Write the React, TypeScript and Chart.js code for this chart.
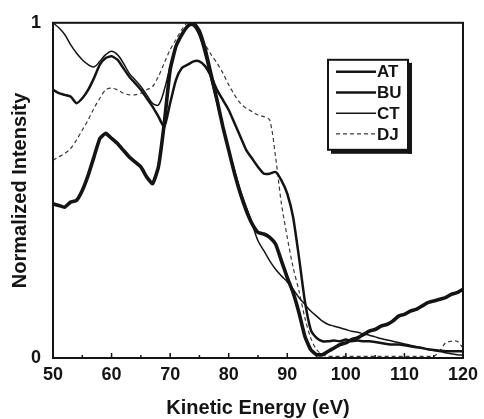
import React, { useEffect, useRef } from 'react';
import { Chart, registerables } from 'chart.js';

Chart.register(...registerables);

const energy = [
  50, 51, 52, 53, 54, 55, 56, 57, 58, 59, 60, 61, 62, 63, 64, 65, 66, 67, 68, 69,
  70, 71, 72, 73, 74, 75, 76, 77, 78, 79, 80, 81, 82, 83, 84, 85, 86, 87, 88, 89,
  90, 91, 92, 93, 94, 95, 96, 97, 98, 99, 100, 101, 102, 103, 104, 105, 106, 107, 108, 109,
  110, 111, 112, 113, 114, 115, 116, 117, 118, 119, 120,
];

const AT = [
  0.46, 0.455, 0.45, 0.465, 0.47, 0.5, 0.545, 0.6, 0.655, 0.67, 0.655, 0.64, 0.62, 0.6, 0.585, 0.57, 0.54, 0.52, 0.57, 0.7,
  0.86, 0.93, 0.965, 0.99, 1.0, 0.975, 0.92, 0.845, 0.77, 0.69, 0.62, 0.55, 0.49, 0.44, 0.4, 0.375, 0.37, 0.36, 0.34, 0.29,
  0.24, 0.195, 0.135, 0.065, 0.025, 0.01, 0.01, 0.02, 0.03, 0.04, 0.045, 0.055, 0.06, 0.07, 0.08, 0.085, 0.095, 0.1, 0.11, 0.125,
  0.13, 0.14, 0.145, 0.155, 0.165, 0.17, 0.175, 0.18, 0.19, 0.195, 0.205,
];

const BU = [
  0.8, 0.79, 0.785, 0.78, 0.76, 0.775, 0.8, 0.835, 0.875, 0.895, 0.9, 0.89, 0.865, 0.84, 0.82, 0.8, 0.775, 0.75, 0.72, 0.69,
  0.76, 0.83, 0.865, 0.875, 0.885, 0.885, 0.87, 0.84, 0.8, 0.77, 0.74, 0.7, 0.66, 0.62, 0.595, 0.57, 0.55, 0.55, 0.555, 0.53,
  0.49, 0.42, 0.3, 0.17, 0.085, 0.06, 0.05, 0.05, 0.052, 0.05, 0.055, 0.05, 0.052, 0.05, 0.05, 0.048, 0.045, 0.042, 0.04, 0.04,
  0.038, 0.035, 0.032, 0.03, 0.026, 0.024, 0.022, 0.02, 0.02, 0.02, 0.02,
];

const CT = [
  1.0, 0.985, 0.965, 0.935, 0.91, 0.89, 0.875, 0.868, 0.885, 0.905, 0.915, 0.905, 0.88, 0.85, 0.83, 0.81, 0.785, 0.76, 0.755, 0.8,
  0.87, 0.93, 0.97, 0.99, 0.99, 0.96, 0.9, 0.83, 0.76, 0.69, 0.62, 0.56, 0.5, 0.45, 0.4, 0.35, 0.32, 0.29, 0.265, 0.245,
  0.227, 0.205, 0.18, 0.16, 0.14, 0.125, 0.11, 0.1, 0.095, 0.09, 0.085, 0.08, 0.077, 0.072, 0.068, 0.063, 0.058, 0.054, 0.05, 0.046,
  0.042, 0.038, 0.034, 0.03, 0.026, 0.022, 0.019, 0.016, 0.013, 0.01, 0.008,
];

const DJ = [
  0.59, 0.6, 0.61, 0.625, 0.65, 0.68, 0.71, 0.745, 0.775, 0.8, 0.805, 0.8, 0.79, 0.785, 0.785, 0.79, 0.8, 0.81, 0.84, 0.88,
  0.92, 0.95, 0.98, 1.0, 0.995, 0.97, 0.935, 0.905, 0.88, 0.85, 0.815, 0.785, 0.76, 0.745, 0.735, 0.725, 0.72, 0.71, 0.6, 0.46,
  0.36, 0.27, 0.2, 0.12, 0.06, 0.025, 0.01, 0.005, 0.005, 0.005, 0.005, 0.005, 0.005, 0.005, 0.005, 0.005, 0.005, 0.005, 0.005, 0.005,
  0.005, 0.005, 0.005, 0.005, 0.005, 0.005, 0.02, 0.045, 0.05, 0.05, 0.03,
];

const seriesLabels = ['AT', 'BU', 'CT', 'DJ'];
const xTickValues = [50, 60, 70, 80, 90, 100, 110, 120];
const xInnerTicks = [55, 60, 65, 70, 75, 80, 85, 90, 95, 100, 105, 110, 115];
const yTickValues = [0, 1];

const FONT = '"Liberation Sans", Arial, Helvetica, sans-serif';
const INK = '#141414';

const framePlugin = {
  id: 'frame',
  afterDatasetsDraw(chart: any) {
    const { ctx, chartArea: ca, scales } = chart;
    ctx.save();
    ctx.strokeStyle = INK;
    ctx.lineWidth = 1.5;
    xInnerTicks.forEach((v) => {
      const px = scales.x.getPixelForValue(v);
      const len = v % 10 === 0 ? 5 : 3;
      ctx.beginPath();
      ctx.moveTo(px, ca.bottom);
      ctx.lineTo(px, ca.bottom - len);
      ctx.stroke();
    });
    ctx.lineWidth = 2;
    ctx.strokeRect(ca.left, ca.top, ca.right - ca.left, ca.bottom - ca.top);
    ctx.restore();
  },
  afterDraw(chart: any) {
    const { ctx, chartArea: ca } = chart;
    const bx = ca.left + 275;
    const by = ca.top + 37;
    const bw = 80;
    const bh = 90;
    ctx.save();
    ctx.fillStyle = '#ffffff';
    ctx.fillRect(bx, by, bw, bh);
    ctx.fillStyle = INK;
    ctx.fillRect(bx + bw, by + 3, 4, bh + 1);
    ctx.fillRect(bx + 3, by + bh, bw + 1, 4);
    ctx.strokeStyle = INK;
    ctx.lineWidth = 2;
    ctx.strokeRect(bx, by, bw, bh);
    chart.data.datasets.forEach((ds: any, i: number) => {
      const y = by + 12 + i * 20.7;
      ctx.beginPath();
      ctx.strokeStyle = ds.borderColor;
      ctx.lineWidth = Math.min(ds.borderWidth, 2.4);
      ctx.setLineDash(ds.borderDash || []);
      ctx.moveTo(bx + 8, y);
      ctx.lineTo(bx + 48, y);
      ctx.stroke();
      ctx.setLineDash([]);
      ctx.fillStyle = INK;
      ctx.font = `bold 17px ${FONT}`;
      ctx.textAlign = 'left';
      ctx.textBaseline = 'middle';
      ctx.fillText(ds.label, bx + 49, y + 1);
    });
    ctx.restore();
  },
};

export default function App() {
  const ref = useRef<HTMLCanvasElement>(null);

  useEffect(() => {
    if (!ref.current) return;
    const pts = (ys: number[]) => energy.map((x, i) => ({ x, y: ys[i] }));
    const chart = new Chart(ref.current, {
      type: 'line',
      data: {
        datasets: [
          { label: seriesLabels[0], data: pts(AT), borderColor: INK, borderWidth: 3.6, pointRadius: 0, tension: 0.15 },
          { label: seriesLabels[1], data: pts(BU), borderColor: INK, borderWidth: 2.5, pointRadius: 0, tension: 0.2 },
          { label: seriesLabels[2], data: pts(CT), borderColor: INK, borderWidth: 1.5, pointRadius: 0, tension: 0.35 },
          { label: seriesLabels[3], data: pts(DJ), borderColor: '#3a3a3a', borderWidth: 1.2, borderDash: [4, 3], pointRadius: 0, tension: 0.3 },
        ],
      },
      options: {
        responsive: false,
        animation: false,
        layout: { padding: { top: 14, right: 18, left: 0, bottom: 0 } },
        plugins: { legend: { display: false }, tooltip: { enabled: false } },
        scales: {
          x: {
            type: 'linear',
            min: 50,
            max: 120,
            afterFit: (s: any) => { s.height = 61; },
            afterBuildTicks: (s: any) => { s.ticks = xTickValues.map((v) => ({ value: v })); },
            grid: { display: false, drawTicks: false },
            border: { display: false },
            ticks: { padding: 6, color: INK, font: { family: FONT, size: 18, weight: 'bold' } },
            title: {
              display: true,
              text: 'Kinetic Energy (eV)',
              color: INK,
              font: { family: FONT, size: 20, weight: 'bold' },
              padding: { top: 0, bottom: -1 },
            },
          },
          y: {
            type: 'linear',
            min: 0,
            max: 1,
            afterFit: (s: any) => { s.width = 53; },
            afterBuildTicks: (s: any) => { s.ticks = yTickValues.map((v) => ({ value: v })); },
            grid: { display: false, drawTicks: false },
            border: { display: false },
            ticks: { padding: 12, color: INK, font: { family: FONT, size: 18, weight: 'bold' } },
            title: {
              display: true,
              text: 'Normalized Intensity',
              color: INK,
              font: { family: FONT, size: 20, weight: 'bold' },
              padding: { top: 8, bottom: 0 },
            },
          },
        },
      } as any,
      plugins: [framePlugin],
    });
    return () => chart.destroy();
  }, []);

  return (
    <div style={{ position: 'absolute', left: 0, top: 0, width: 484, height: 419, background: '#fff' }}>
      <canvas ref={ref} width={484} height={419} style={{ width: 484, height: 419, display: 'block' }} />
    </div>
  );
}
